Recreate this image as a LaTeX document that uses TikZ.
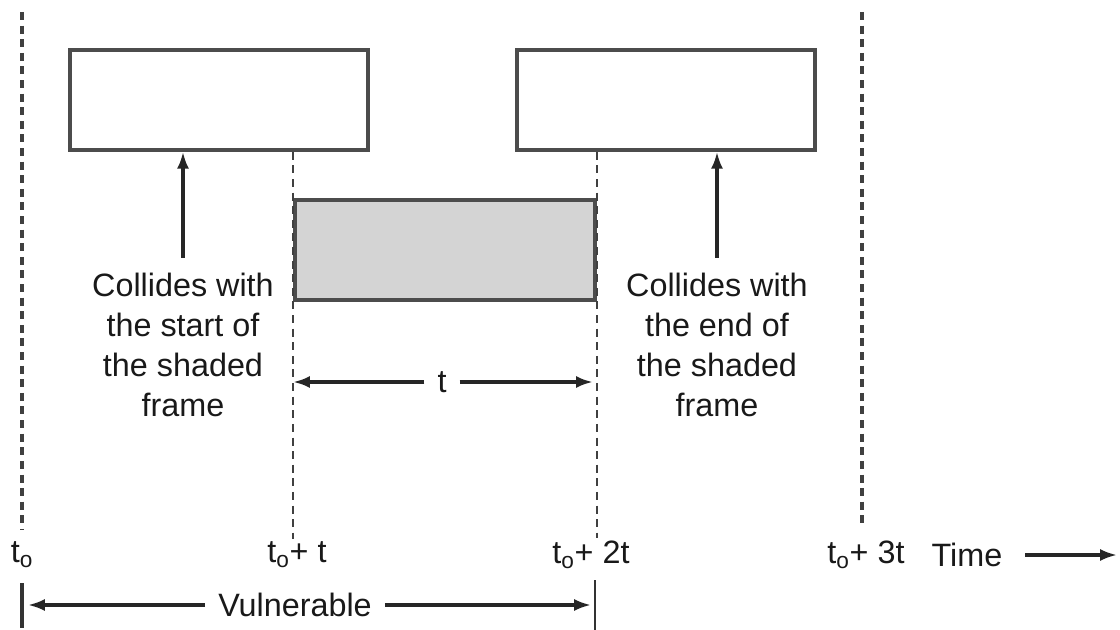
\documentclass[tikz,border=0pt]{standalone}
\usepackage{fontspec}
\setmainfont{Liberation Sans}
\usetikzlibrary{arrows.meta}
\def\rowy{555}
\def\vulny{605}
\tikzset{
  frame/.style={draw=black!70, line width=2.6pt, minimum width=7.45cm, minimum height=2.5cm, inner sep=0pt},
  shadedframe/.style={frame, fill=black!17, minimum width=7.5cm},
  guide/.style={draw=black!75, dash pattern=on 0.2cm off 0.14cm, line width=2.6pt},
  lbl/.style={text=black!90, font=\fontsize{23}{28.5}\selectfont, inner sep=2pt},
  tip/.style={-{Latex[length=0.42cm,width=0.3cm]}, draw=black!85, line width=2.2pt}
}
\newcommand{\tlabel}[3]{
    \node[lbl] (#1) at (#2,\rowy) {t\textsubscript{o}#3};
}

\begin{document}
\begin{tikzpicture}[x=0.025cm, y=-0.025cm]
    \useasboundingbox (0,0) rectangle (1120,630);
    % the frames
    \node[frame] (frameA) at (219,100) {};
    \node[frame] (frameB) at (666,100) {};
    \node[shadedframe] (shaded) at (445,250) {};
    % time marks
    \tlabel{t0}{22}{}
    \tlabel{t1}{297}{+ t}
    \tlabel{t2}{591}{+ 2t}
    \tlabel{t3}{866}{+ 3t}
    \node[lbl] (time) at (967,\rowy) {Time};
    \coordinate (top0) at (22,12);
    \coordinate (top3) at (862,12);
    \draw[guide] (top0) -- (22,530);
    \draw[guide] (top3) -- (862,528);
    \draw[guide, line width=1.8pt] (shaded.west |- frameA.south) -- (shaded.west |- t1.north);
    \draw[guide, line width=1.8pt] (shaded.east |- frameB.south) -- (shaded.east |- t2.north);
    \coordinate (timeend) at (1117,\rowy);
    \draw[tip] ([xshift=0.5cm]time.east) -- (timeend);
    % collision notes
    \node[lbl, align=center] (startnote) at (183,345) {Collides with\\the start of\\the shaded\\frame};
    \node[lbl, align=center] (endnote) at (717,345) {Collides with\\the end of\\the shaded\\frame};
    \draw[tip] ([yshift=0.3cm]startnote.north) -- (startnote.north |- frameA.south);
    \draw[tip] ([yshift=0.3cm]endnote.north) -- (endnote.north |- frameB.south);
    % frame length
    \node[lbl] (len) at (442,382) {t};
    \draw[tip] ([xshift=-0.25cm]len.west) -- (len.west -| shaded.west);
    \draw[tip] ([xshift=0.25cm]len.east) -- ([xshift=-0.1cm]len.east -| shaded.east);
    % vulnerable period
    \node[lbl] (vuln) at (295,\vulny) {Vulnerable};
    \coordinate (vulnL) at (22,583);
    \coordinate (vulnR) at (595,580);
    \draw[draw=black!80, line width=2.2pt] (vulnL) -- (22,628);
    \draw[draw=black!80, line width=1.8pt] (vulnR) -- (595,630);
    \draw[tip] ([xshift=-0.25cm]vuln.west) -- ([xshift=0.15cm]vuln.west -| vulnL);
    \draw[tip] ([xshift=0.25cm]vuln.east) -- ([xshift=-0.1cm]vuln.east -| vulnR);
\end{tikzpicture}
\end{document}
